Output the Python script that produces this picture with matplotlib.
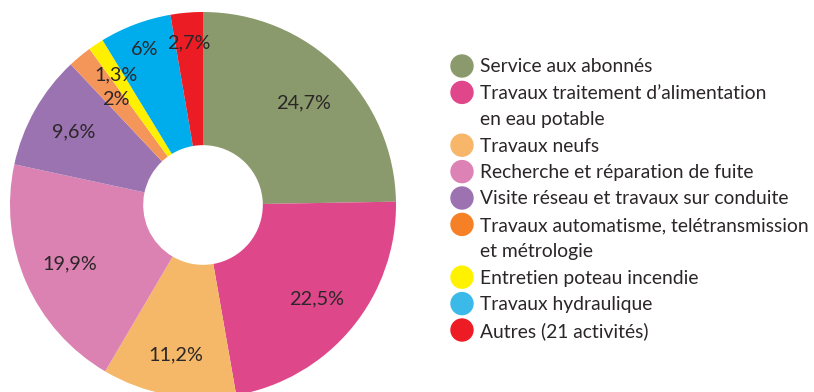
import numpy as np
import matplotlib.pyplot as plt
from matplotlib.patches import Ellipse

# Répartition des activités (%)
labels = [
    "Service aux abonnés",
    "Travaux traitement d’alimentation\nen eau potable",
    "Travaux neufs",
    "Recherche et réparation de fuite",
    "Visite réseau et travaux sur conduite",
    "Travaux automatisme, telétransmission\net métrologie",
    "Entretien poteau incendie",
    "Travaux hydraulique",
    "Autres (21 activités)",
]
values = [24.7, 22.5, 11.2, 19.9, 9.6, 2, 1.3, 6, 2.7]
pct_labels = ["24,7%", "22,5%", "11,2%", "19,9%", "9,6%", "2%", "1,3%", "6%", "2,7%"]

colors = ["#8a9a6c", "#de4789", "#f5b868", "#db82b3", "#9b73b1",
          "#f4955a", "#fff000", "#00adec", "#ec1c24"]
legend_colors = ["#8a9a6c", "#e0478a", "#f7b66a", "#dd82b4", "#9c72b0",
                 "#f58025", "#fff200", "#3bb9e8", "#ed1c24"]
# distance of each percentage label from the centre (fraction of radius)
label_r = [0.745, 0.76, 0.79, 0.755, 0.77, 0.71, 0.81, 0.86, 0.845]

text_color = "#2b2628"
plt.rcParams["font.family"] = ["Lato", "DejaVu Sans"]

W, H = 814, 392
fig = plt.figure(figsize=(W / 100, H / 100), dpi=100)

# donut
ax = fig.add_axes([10 / W, -6 / H, 386 / W, 386 / H])
wedges, _ = ax.pie(values, colors=colors, startangle=90, counterclock=False,
                   radius=1, wedgeprops=dict(width=0.69, linewidth=0))
for w, txt, r in zip(wedges, pct_labels, label_r):
    ang = np.deg2rad((w.theta1 + w.theta2) / 2)
    ax.text(r * np.cos(ang), r * np.sin(ang), txt, ha="center", va="center",
            fontsize=14.3, color=text_color)
ax.set_xlim(-1, 1)
ax.set_ylim(-1, 1)
ax.set_aspect("equal")
ax.axis("off")

# legend, drawn line by line so the dot sits on the first line of each entry
y0, step = 67, 26.4
row = 0
for lab, c in zip(labels, legend_colors):
    y = y0 + row * step
    fig.patches.append(Ellipse((462 / W, 1 - (y - 1) / H), 22 / W, 22 / H,
                               transform=fig.transFigure, color=c))
    for line in lab.split("\n"):
        fig.text(480 / W, 1 - (y0 + row * step) / H, line, ha="left", va="center",
                 fontsize=13.9, color=text_color)
        row += 1

fig.savefig("out.png", dpi=100, facecolor="white")
